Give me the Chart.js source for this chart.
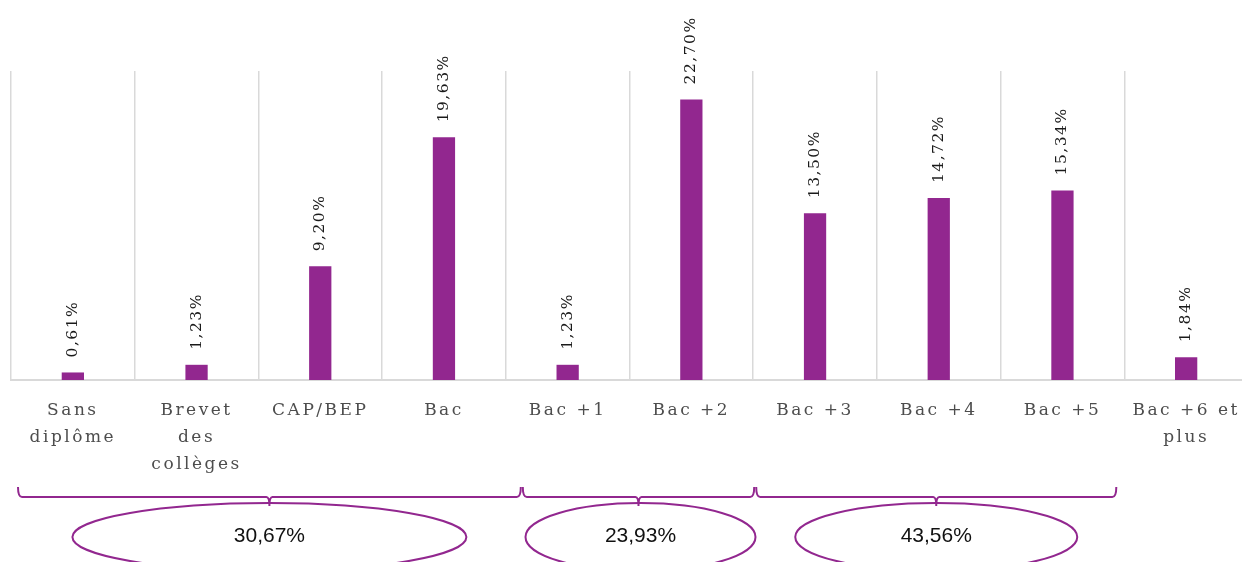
<!DOCTYPE html>
<html>
<head>
<meta charset="utf-8">
<script src="https://cdn.jsdelivr.net/npm/chart.js@4/dist/chart.umd.min.js"></script>
<style>
  html, body { margin: 0; padding: 0; background: #fff; overflow: hidden; }
  #wrap { width: 1250px; height: 562px; }
</style>
</head>
<body>
<div id="wrap"><canvas id="diplomeChart"></canvas></div>
<script>
// données
const categories = [
  ['Sans', 'diplôme'], ['Brevet', 'des', 'collèges'], 'CAP/BEP', 'Bac', 'Bac +1',
  'Bac +2', 'Bac +3', 'Bac +4', 'Bac +5', ['Bac +6 et', 'plus']
];
const values = [0.61, 1.23, 9.20, 19.63, 1.23, 22.70, 13.50, 14.72, 15.34, 1.84];
const valueLabels = ['0,61%', '1,23%', '9,20%', '19,63%', '1,23%', '22,70%', '13,50%', '14,72%', '15,34%', '1,84%'];
const groupFirst = [0, 4, 6];
const groupLast = [3, 5, 8];
const groupLabels = ['30,67%', '23,93%', '43,56%'];

const purple = '#92278F';
// réglages de dessin des accolades / ellipses
const braceTop = 487, braceY = 497, braceTip = 506;
const braceInset = [[7, 15], [17, 1], [3, -8]];
const ellipseRx = [197, 115, 141];
const ellipseShift = [0, 2, 0];
const ellipseCy = 537, ellipseRy = 34;

const barLabels = {
  id: 'barLabels',
  afterDatasetsDraw(chart) {
    const ctx = chart.ctx;
    const meta = chart.getDatasetMeta(0);
    ctx.save();
    ctx.font = '15.5px "DejaVu Serif", serif';
    ctx.letterSpacing = '1.5px';
    ctx.fillStyle = '#1a1a1a';
    ctx.textAlign = 'left';
    ctx.textBaseline = 'middle';
    meta.data.forEach((bar, i) => {
      ctx.save();
      ctx.translate(bar.x, bar.y - 15);
      ctx.rotate(-Math.PI / 2);
      ctx.fillText(valueLabels[i], 0, 0);
      ctx.restore();
    });
    ctx.restore();
  }
};

const groups = {
  id: 'groups',
  beforeDraw(chart) {
    chart.ctx.letterSpacing = '2.5px';
  },
  afterDraw(chart) {
    const ctx = chart.ctx;
    const x = chart.scales.x;
    const half = (x.getPixelForValue(1) - x.getPixelForValue(0)) / 2;
    ctx.save();
    ctx.letterSpacing = '0px';
    ctx.strokeStyle = purple;
    ctx.lineWidth = 2;
    groupLabels.forEach((lab, g) => {
      const x0 = x.getPixelForValue(groupFirst[g]) - half + braceInset[g][0];
      const x1 = x.getPixelForValue(groupLast[g]) + half + braceInset[g][1];
      const mid = (x0 + x1) / 2;
      ctx.beginPath();
      ctx.moveTo(x0, braceTop);
      ctx.quadraticCurveTo(x0, braceY, x0 + 4, braceY);
      ctx.lineTo(mid - 3, braceY);
      ctx.quadraticCurveTo(mid, braceY, mid, braceTip);
      ctx.quadraticCurveTo(mid, braceY, mid + 3, braceY);
      ctx.lineTo(x1 - 4, braceY);
      ctx.quadraticCurveTo(x1, braceY, x1, braceTop);
      ctx.stroke();

      const cx = mid + ellipseShift[g];
      ctx.beginPath();
      ctx.ellipse(cx, ellipseCy, ellipseRx[g], ellipseRy, 0, 0, Math.PI * 2);
      ctx.stroke();

      ctx.fillStyle = '#111';
      ctx.font = '21px "Liberation Sans Narrow", "Liberation Sans", Arial, sans-serif';
      ctx.textAlign = 'center';
      ctx.textBaseline = 'middle';
      ctx.fillText(lab, cx, ellipseCy - 1);
    });
    ctx.restore();
  }
};

new Chart(document.getElementById('diplomeChart'), {
  type: 'bar',
  data: {
    labels: categories,
    datasets: [{
      data: values,
      backgroundColor: purple,
      categoryPercentage: 1,
      barPercentage: 0.18
    }]
  },
  options: {
    responsive: true,
    maintainAspectRatio: false,
    animation: false,
    layout: { padding: { left: 11, right: 2, top: 71, bottom: 0 } },
    plugins: { legend: { display: false }, tooltip: { enabled: false } },
    scales: {
      x: {
        grid: { color: '#d9d9d9', lineWidth: 1.5, drawTicks: false, offset: true },
        border: { color: '#d9d9d9', width: 2 },
        ticks: {
          color: '#4d4d4d',
          font: { family: '"DejaVu Serif", serif', size: 17, lineHeight: 1.6 },
          padding: 17,
          maxRotation: 0,
          autoSkip: false
        },
        afterFit(scale) { scale.height = 182; }
      },
      y: {
        display: false,
        min: 0,
        max: 25
      }
    }
  },
  plugins: [barLabels, groups]
});
</script>
</body>
</html>
